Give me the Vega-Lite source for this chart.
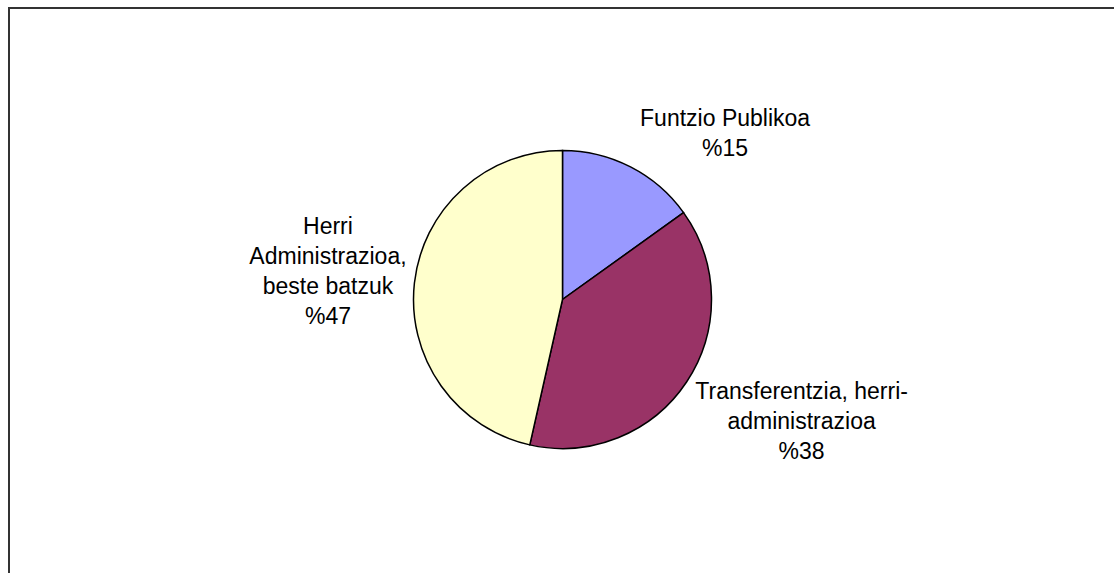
{
  "$schema": "https://vega.github.io/schema/vega-lite/v6.json",
  "width": 1114,
  "height": 573,
  "padding": {"left": 9, "top": 8, "right": -2, "bottom": -18},
  "autosize": {"type": "fit", "contains": "padding"},
  "background": "white",
  "view": {"stroke": "#333333", "strokeWidth": 2, "fill": "white"},
  "config": {
    "view": {"stroke": "#333333", "strokeWidth": 2},
    "text": {"font": "Liberation Sans", "fontSize": 23, "color": "#000000"}
  },
  "data": {
    "values": [
      {"category": "Funtzio Publikoa", "value": 15.1, "label": ["Funtzio Publikoa", "%15"]},
      {"category": "Transferentzia, herri-administrazioa", "value": 38.45, "label": ["Transferentzia, herri-", "administrazioa", "%38"]},
      {"category": "Herri Administrazioa, beste batzuk", "value": 46.5, "label": ["Herri", "Administrazioa,", "beste batzuk", "%47"]}
    ]
  },
  "transform": [{"window": [{"op": "row_number", "as": "idx"}]}],
  "encoding": {
    "theta": {"field": "value", "type": "quantitative", "stack": true},
    "order": {"field": "idx", "type": "quantitative"}
  },
  "layer": [
    {
      "mark": {"type": "arc", "radius": 149, "stroke": "#000000", "strokeWidth": 1.5},
      "encoding": {
        "color": {
          "field": "category",
          "type": "nominal",
          "scale": {
            "domain": ["Funtzio Publikoa", "Transferentzia, herri-administrazioa", "Herri Administrazioa, beste batzuk"],
            "range": ["#9999FF", "#993366", "#FFFFCC"]
          },
          "legend": null
        }
      }
    },
    {
      "mark": {"type": "text", "radius": 240, "dx": 53, "dy": 33, "lineHeight": 30},
      "encoding": {
        "text": {"condition": {"test": "datum.category === 'Funtzio Publikoa'", "field": "label"}, "value": ""}
      }
    },
    {
      "mark": {"type": "text", "radius": 240, "dx": 39, "dy": -40, "lineHeight": 30},
      "encoding": {
        "text": {"condition": {"test": "datum.category === 'Transferentzia, herri-administrazioa'", "field": "label"}, "value": ""}
      }
    },
    {
      "mark": {"type": "text", "radius": 240, "dx": 4, "dy": -46, "lineHeight": 30},
      "encoding": {
        "text": {"condition": {"test": "datum.category === 'Herri Administrazioa, beste batzuk'", "field": "label"}, "value": ""}
      }
    }
  ]
}
